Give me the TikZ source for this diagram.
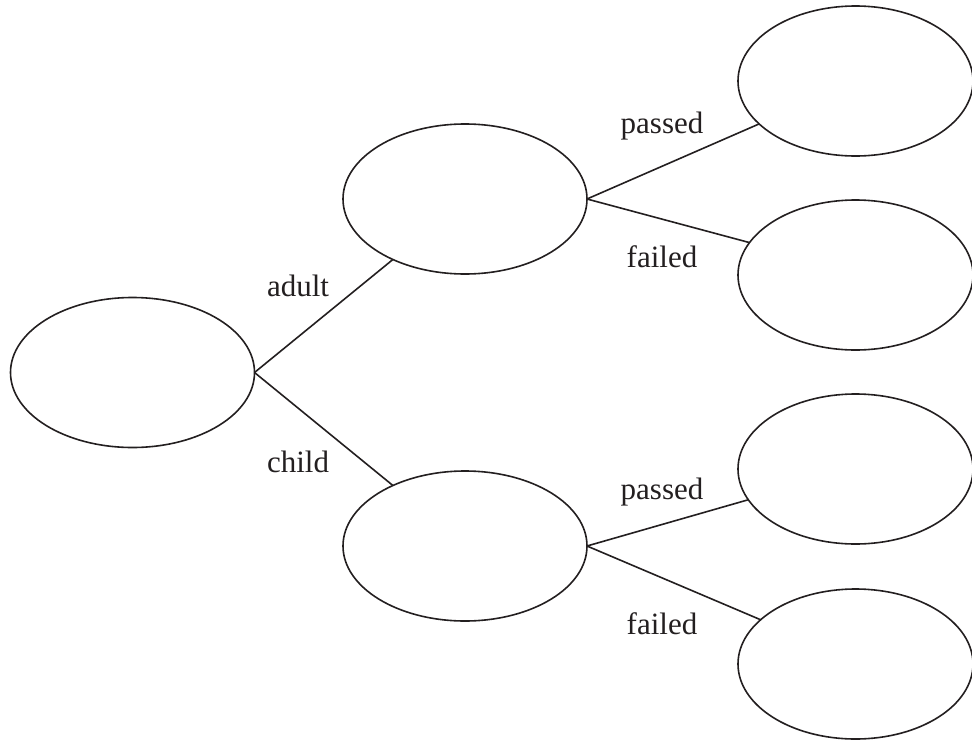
\documentclass[tikz,border=0pt]{standalone}
\usepackage{fontspec}
\setmainfont{Liberation Serif}
\usetikzlibrary{shapes.geometric}
\definecolor{ink}{HTML}{231F20}
\begin{document}
\begin{tikzpicture}[x=1pt,y=-1pt,
  bubble/.style={draw=ink, ellipse, line width=1.6pt, minimum width=244pt, minimum height=150pt, inner sep=0pt, outer sep=0pt},
  rbubble/.style={bubble, minimum width=235pt},
  branch/.style={draw=ink, line width=1.6pt},
  lbl/.style={text=ink, font=\fontsize{31}{31}\selectfont, anchor=base, inner sep=0pt}]
\useasboundingbox (0,0) rectangle (972,742);
\clip (0,0) rectangle (972,742);
\node[bubble] (L) at (132.5,372.5) {};
\node[bubble] (M1) at (465,199) {};
\node[bubble] (M2) at (465,546) {};
\node[rbubble] (R1) at (855.5,81) {};
\node[rbubble] (R2) at (855.5,275) {};
\node[rbubble] (R3) at (855.5,469) {};
\node[rbubble] (R4) at (855.5,664) {};
\draw[branch] (L.east) -- (M1.220);
\draw[branch] (L.east) -- (M2.140.5);
\draw[branch] (M1.east) -- (R1.204.5);
\draw[branch] (M1.east) -- (R2.163.6);
\draw[branch] (M2.east) -- (R3.196.9);
\draw[branch] (M2.east) -- (R4.155.5);
\node[lbl] (la) at (298,296) {adult};
\node[lbl] (lc) at (298,472) {child};
\node[lbl] (lp1) at (662,133) {passed};
\node[lbl] (lf1) at (662,267) {failed};
\node[lbl] (lp2) at (662,499) {passed};
\node[lbl] (lf2) at (662,634) {failed};
\end{tikzpicture}
\end{document}
